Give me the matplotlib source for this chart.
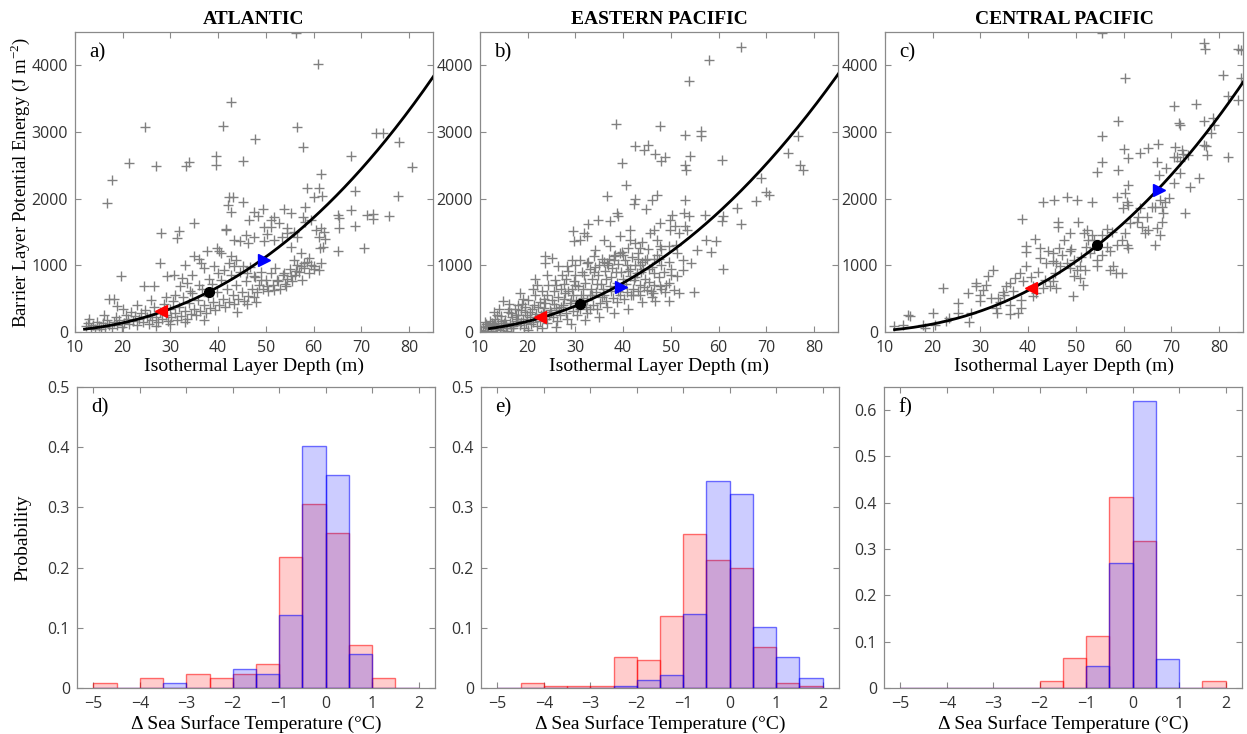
import numpy as np
import matplotlib
matplotlib.use("Agg")
import matplotlib.pyplot as plt

# ---------------- DATA ----------------
regions = ["ATLANTIC", "EASTERN PACIFIC", "CENTRAL PACIFIC"]
panel_top = ["a)", "b)", "c)"]
panel_bot = ["d)", "e)", "f)"]

# Scatter: (Isothermal layer depth [m], barrier layer PE [J m-2])
atl_points = [
    (56.4, 4490), (61.0, 4027), (42.6, 3443), (24.6, 3074), (41.1, 3084), (56.6, 3074), (57.7, 2775),
    (47.7, 2889), (73.0, 2989), (74.5, 2989), (77.9, 2844), (80.7, 2480), (39.5, 2645), (39.5, 2505),
    (45.1, 2565), (21.4, 2530), (27.0, 2495), (33.2, 2495), (33.8, 2555), (67.9, 2640), (61.5, 2375),
    (17.7, 2280), (16.7, 1936), (58.6, 2166), (61.2, 2166), (60.1, 2021), (61.7, 2041), (68.7, 2116),
    (77.6, 2041), (42.3, 2031), (43.2, 2031), (45.2, 1946), (42.0, 1906), (42.6, 1796), (35.0, 1642),
    (41.6, 1532), (41.6, 1552), (28.1, 1492), (31.7, 1522), (31.4, 1417),
    (49.3, 1841), (47.4, 1796), (48.4, 1741), (46.5, 1682), (51.7, 1731), (53.7, 1841), (55.2, 1781),
    (51.1, 1682), (51.0, 1582), (49.6, 1582), (52.8, 1642), (54.4, 1557), (58.2, 1881), (57.7, 1721),
    (58.1, 1657), (59.4, 1682), (60.5, 1532), (61.5, 1557), (62.2, 1507), (61.2, 1432), (62.4, 1392),
    (61.9, 1282), (61.3, 1257), (65.2, 1756), (65.4, 1716), (65.4, 1557), (67.9, 1831), (68.6, 1592),
    (71.1, 1756), (72.5, 1766), (72.5, 1697), (75.8, 1741), (70.6, 1267), (65.2, 1217), (45.8, 1457),
    (43.3, 1382), (44.5, 1372), (46.3, 1342), (47.5, 1432), (49.6, 1372), (50.3, 1472), (51.7, 1382),
    (53.3, 1422), (54.5, 1482), (55.9, 1507), (56.6, 1432), (55.2, 1282), (57.3, 1183), (59.1, 1108),
    (58.0, 1033), (60.1, 983), (61.2, 933), (61.5, 1033), (57.3, 983), (55.9, 1083), (56.2, 908),
    (55.2, 833), (53.8, 883), (52.4, 783), (54.2, 684), (51.7, 634), (50.3, 684), (48.9, 783),
    (47.5, 833), (46.1, 883), (45.1, 983), (43.7, 1083), (42.6, 1133), (40.5, 1183), (39.8, 1257),
    (40.2, 1222), (37.7, 1208), (42.3, 1033), (43.4, 983), (41.2, 933), (39.1, 983), (37.0, 958),
    (36.3, 1033), (34.9, 1133), (35.9, 1093), (33.1, 1008), (30.7, 858), (32.4, 808), (34.5, 858),
    (33.5, 734), (32.1, 684), (29.3, 833), (27.9, 1033), (26.5, 684), (24.5, 684), (19.6, 833),
    (18.1, 499), (17.1, 499), (18.8, 384),
    (12.2, 90), (12.8, 130), (13.3, 60), (13.8, 110), (14.2, 50), (14.6, 150), (15.1, 90), (15.5, 40),
    (15.9, 130), (16.3, 70), (16.8, 180), (17.2, 110), (17.7, 60), (18.1, 150), (18.5, 230), (18.9, 100),
    (19.3, 180), (19.8, 70), (20.2, 130), (20.6, 260), (21.0, 200), (21.4, 120), (21.8, 300), (22.2, 170),
    (22.6, 240), (23.0, 100), (23.4, 200), (23.8, 280), (24.2, 150), (24.6, 330), (25.0, 220), (25.4, 120),
    (25.8, 260), (26.2, 180), (26.6, 380), (27.0, 230), (27.4, 150), (27.8, 300), (28.2, 190), (28.6, 420),
    (29.0, 250), (29.4, 170), (29.8, 340), (30.2, 230), (30.6, 460), (31.0, 290), (31.4, 180), (31.8, 370),
    (32.2, 240), (32.6, 520), (33.0, 310), (33.4, 200), (33.8, 430), (34.2, 270), (34.6, 580), (35.0, 350),
    (35.4, 250), (35.8, 480), (36.2, 320), (36.6, 640), (37.0, 400), (37.4, 290), (37.8, 540), (38.2, 360),
    (38.6, 720), (39.0, 450), (39.4, 330), (39.8, 600), (40.2, 400), (40.6, 780), (41.0, 500), (41.4, 380),
    (41.8, 650), (42.2, 450), (42.6, 850), (43.0, 560), (43.4, 420), (43.8, 700), (44.2, 500), (44.6, 900),
    (45.0, 600), (45.4, 460), (45.8, 760), (46.2, 540), (46.6, 980), (47.0, 650), (47.4, 520), (47.8, 820),
    (48.2, 600), (48.6, 700), (49.0, 900), (49.4, 650), (50.0, 780), (50.5, 620), (51.0, 880), (51.5, 700),
    (52.0, 960), (52.5, 760), (53.0, 640), (53.5, 860), (54.0, 720), (54.5, 800), (55.0, 940), (55.5, 760),
    (56.0, 860), (56.5, 1000), (57.0, 900), (57.5, 780), (58.0, 960), (58.5, 1050), (59.0, 880),
    (59.5, 1000), (60.0, 950), (13.0, 200), (16.0, 250), (20.0, 350), (23.0, 400), (26.0, 480),
    (29.0, 520), (31.0, 560), (34.0, 620), (36.0, 700), (38.0, 800), (40.0, 880), (44.0, 300),
    (46.0, 420), (48.0, 450), (37.0, 180), (33.0, 150), (30.0, 120), (27.0, 90)
]

ep_points = [
    (64.7, 4270), (58.0, 4075), (53.8, 3770), (38.5, 3120), (47.8, 3095), (53.0, 2960), (56.4, 3020),
    (56.2, 2945), (42.4, 2785), (44.3, 2735), (45.3, 2800), (46.7, 2675), (47.9, 2570), (48.8, 2625),
    (39.7, 2535), (53.0, 2500), (53.9, 2635), (53.2, 2435), (60.7, 2585), (74.5, 2685), (76.6, 2940),
    (77.1, 2500), (77.7, 2435), (68.9, 2310), (70.0, 2095), (70.5, 2060), (67.9, 1960), (63.8, 1860),
    (64.7, 1620), (60.6, 1660), (60.9, 1735), (57.2, 1760), (59.4, 1370), (57.4, 1375), (58.3, 1195),
    (55.5, 1225), (60.9, 945), (54.9, 605), (40.6, 2200), (36.6, 2035), (42.4, 2000), (42.2, 1920),
    (44.8, 1850), (46.0, 1985), (47.1, 2060), (52.9, 1975), (52.7, 1785), (53.7, 1745), (50.3, 1760),
    (49.9, 1685), (50.9, 1585), (53.0, 1585), (53.4, 1535), (51.6, 1485), (49.9, 1535), (47.8, 1635),
    (46.4, 1535), (45.7, 1485), (47.1, 1385), (47.8, 1285), (49.5, 1285), (51.2, 1185), (52.6, 1085),
    (54.1, 1035), (52.6, 935), (51.2, 835), (49.5, 735), (50.6, 635), (51.7, 585), (49.5, 460),
    (46.7, 460), (48.7, 595), (47.7, 685), (46.3, 585), (44.9, 635), (43.6, 560), (38.7, 1785),
    (39.0, 1735), (37.3, 1660), (34.8, 1685), (32.7, 1625), (31.7, 1485), (29.4, 1520), (29.6, 1360),
    (31.0, 1385), (32.4, 1435), (35.9, 1385), (37.3, 1285), (39.4, 1435), (41.5, 1535), (42.5, 1335),
    (41.5, 1385), (43.6, 1260), (41.1, 1260), (39.4, 1185), (38.0, 1135), (36.6, 1035), (34.1, 1235),
    (33.8, 1135), (32.4, 1035), (31.0, 1085), (29.2, 1085), (28.2, 985), (26.4, 985), (25.0, 1110),
    (23.6, 1135), (23.6, 1035), (21.5, 795), (18.4, 585), (14.9, 460),
    (10.3, 30), (10.6, 80), (11.0, 20), (11.3, 120), (11.7, 60), (12.0, 160), (12.4, 40), (12.7, 100),
    (13.1, 200), (13.4, 70), (13.8, 140), (14.1, 30), (14.5, 240), (14.8, 110), (15.2, 180), (15.5, 60),
    (15.9, 300), (16.2, 140), (16.6, 220), (16.9, 90), (17.3, 350), (17.6, 170), (18.0, 260), (18.3, 110),
    (18.7, 420), (19.0, 200), (19.4, 300), (19.7, 130), (20.1, 480), (20.4, 230), (20.8, 340), (21.1, 150),
    (21.5, 560), (21.8, 270), (22.2, 380), (22.5, 170), (22.9, 620), (23.2, 300), (23.6, 430), (23.9, 200),
    (24.3, 700), (24.6, 330), (25.0, 480), (25.3, 220), (25.7, 780), (26.0, 360), (26.4, 530), (26.7, 250),
    (27.1, 850), (27.4, 400), (27.8, 580), (28.1, 280), (28.5, 920), (28.8, 430), (29.2, 640), (29.5, 310),
    (29.9, 1000), (30.2, 470), (30.6, 690), (30.9, 340), (31.3, 900), (31.6, 510), (32.0, 740), (32.3, 370),
    (32.7, 1050), (33.0, 550), (33.4, 800), (33.7, 400), (34.1, 980), (34.4, 600), (34.8, 860), (35.1, 430),
    (35.5, 1100), (35.8, 640), (36.2, 910), (36.5, 470), (36.9, 1000), (37.2, 690), (37.6, 960), (37.9, 510),
    (38.3, 1150), (38.6, 740), (39.0, 1020), (39.3, 560), (39.7, 1200), (40.0, 790), (40.4, 1080),
    (40.7, 600), (41.1, 920), (41.4, 840), (41.8, 1130), (42.1, 650), (42.5, 1000), (42.8, 890),
    (43.2, 1180), (43.5, 700), (43.9, 1050), (44.2, 940), (44.6, 800), (45.0, 1100), (45.5, 750),
    (46.0, 980), (46.5, 880), (47.0, 1150), (47.5, 820), (48.0, 1000), (48.5, 900), (49.0, 700),
    (49.5, 1050), (50.0, 850),
    (11.5, 90), (12.2, 10), (13.0, 120), (13.6, 250), (14.3, 90), (15.0, 140), (15.7, 20), (16.4, 280),
    (17.0, 60), (17.8, 200), (18.5, 330), (19.2, 60), (19.9, 260), (20.6, 120), (21.3, 400), (22.0, 90),
    (22.7, 250), (23.4, 500), (24.1, 130), (24.8, 300), (25.5, 620), (26.2, 170), (26.9, 380), (27.6, 720),
    (28.3, 200), (29.0, 480), (29.7, 760), (30.4, 250), (31.1, 560), (31.8, 850), (32.5, 280), (33.2, 650),
    (33.9, 900), (34.6, 350), (35.3, 720), (36.0, 1050), (36.7, 380), (37.4, 820), (38.1, 1080),
    (38.8, 450), (39.5, 900), (40.2, 500), (40.9, 1000), (41.6, 560), (42.3, 780), (43.0, 620),
    (43.7, 900), (44.4, 680), (45.1, 1250), (45.8, 620), (46.5, 1100),
    (14.0, 350), (16.0, 420), (19.0, 500), (21.0, 650), (24.0, 560), (26.0, 700), (28.0, 800),
    (30.0, 850), (33.0, 950), (35.0, 1000), (37.0, 1100), (40.0, 1150), (43.0, 1100), (20.0, 30),
    (23.0, 60), (26.0, 80), (29.0, 120), (32.0, 180), (35.0, 220), (38.0, 280), (41.0, 350),
    (12.5, 130), (13.5, 40), (14.5, 170), (15.5, 100), (16.5, 60), (17.5, 260), (18.5, 150), (19.5, 380),
    (20.5, 300), (21.5, 220), (22.5, 450), (23.5, 360), (24.5, 250), (25.5, 420), (26.5, 330), (27.5, 500),
    (28.5, 620), (29.5, 550), (30.5, 380), (31.5, 650), (32.5, 480), (33.5, 560), (34.5, 720), (35.5, 520),
    (36.5, 800), (37.5, 620), (38.5, 900), (39.5, 680), (40.5, 720), (41.5, 950), (42.5, 820),
    (43.5, 1000), (44.5, 1080), (45.5, 950), (46.5, 700), (47.5, 1100), (11.0, 150), (13.0, 300),
    (16.0, 350), (18.0, 400), (22.0, 700), (24.0, 850), (27.0, 650), (30.0, 700), (33.0, 350),
    (36.0, 550), (39.0, 620), (42.0, 550), (44.0, 450), (46.0, 520), (48.0, 650), (50.0, 950),
    (51.0, 1300), (48.0, 1250), (44.0, 1350)
]

cp_points = [
    (55.4, 4480), (76.8, 4336), (77.1, 4250), (84.0, 4250), (84.5, 4225), (60.3, 3812), (80.8, 3852),
    (81.9, 3538), (84.0, 3478), (84.5, 3812), (70.5, 3388), (75.2, 3413), (71.6, 3129), (71.9, 3104),
    (58.9, 3169), (76.8, 3164), (78.7, 3214), (78.9, 3104), (77.3, 2794), (76.8, 2804), (77.5, 2655),
    (81.9, 2625), (78.2, 2979), (55.4, 2939), (60.0, 2740), (61.0, 2605), (63.5, 2690), (65.2, 2755),
    (67.1, 2819), (66.9, 2555), (67.3, 2355), (68.9, 2455), (70.6, 2630), (72.2, 2730), (70.8, 2779),
    (72.4, 2670), (71.2, 2630), (73.4, 2655), (71.9, 2565), (70.5, 2230), (71.9, 2380), (74.0, 2180),
    (75.8, 2305), (72.9, 1781), (69.4, 2006), (68.7, 1956), (68.0, 1881), (66.6, 1881), (67.7, 1981),
    (54.4, 2405), (55.4, 2555), (58.9, 2430), (61.0, 2205), (60.3, 2081), (58.6, 2031), (60.6, 1956),
    (61.0, 1906), (59.8, 1856), (63.5, 1856), (65.9, 1881), (64.9, 1731), (63.1, 1731), (62.8, 1657),
    (61.4, 1632), (63.8, 1582), (65.2, 1532), (64.5, 1482), (66.6, 1307), (67.7, 1457), (66.9, 1557),
    (68.0, 1657), (68.3, 1781), (60.3, 1482), (59.6, 1382), (60.6, 1307), (61.0, 1257), (58.6, 1307),
    (57.2, 1208), (56.5, 1282), (55.4, 1158), (57.7, 983), (58.4, 883), (59.6, 883), (57.2, 933),
    (54.4, 1083), (54.4, 983), (53.8, 1257), (53.3, 1457), (52.3, 1532), (51.6, 1482), (50.5, 1657),
    (50.2, 1981), (48.1, 2031), (45.4, 1981), (43.0, 1946), (53.3, 1956), (38.6, 1697), (46.3, 1657),
    (46.3, 1582), (48.8, 1482), (47.5, 1382), (46.4, 1257), (45.2, 1183), (44.2, 1208), (42.4, 1257),
    (41.4, 1392), (39.6, 1292), (39.6, 1193), (43.8, 1033), (42.4, 1108), (45.2, 1058), (45.9, 1033),
    (46.7, 983), (48.1, 1033), (48.8, 958), (49.5, 833), (50.3, 933), (50.9, 983), (50.9, 808),
    (51.9, 933), (51.4, 709), (49.4, 534), (45.2, 758), (44.5, 684), (45.9, 659), (43.1, 659),
    (41.7, 584), (41.0, 544), (38.2, 883), (37.2, 808), (36.1, 734), (35.4, 684), (34.7, 594),
    (33.7, 509), (33.3, 359), (33.4, 284), (36.1, 409), (36.1, 274), (37.9, 284), (38.4, 359),
    (38.4, 484), (32.3, 509), (32.6, 933), (31.6, 833), (30.5, 634), (31.2, 709), (29.1, 734),
    (29.1, 684), (29.8, 559), (29.8, 459), (28.1, 284), (27.7, 145), (27.4, 584), (25.3, 434),
    (25.3, 284), (23.5, 210), (22.8, 170), (22.1, 659), (20.0, 284), (20.4, 110), (17.9, 110),
    (18.3, 60), (15.3, 245), (14.8, 260), (13.7, 110), (11.9, 85), (41.0, 684), (39.6, 983),
    (45.6, 883), (48.8, 1208), (49.5, 1083), (52.1, 1282), (53.7, 1382), (52.6, 1382),
    (34.0, 450), (35.0, 560), (36.8, 620), (39.0, 760), (40.5, 830), (42.0, 900), (43.5, 780),
    (47.0, 1150), (49.0, 1250), (51.0, 1120), (53.0, 1180), (55.5, 1450), (56.5, 1550), (57.5, 1500)
]

# Power-law fits: BPE = coef * ILD ** expo
fit_coef = [0.1396, 0.220, 0.0958]
fit_expo = [2.30, 2.20, 2.38]
fit_xstart = [12.0, 12.0, 12.0]

# Highlighted points on the fits: (x, y) for red, black, blue markers
red_mark = [(28.0, 320), (22.5, 230), (40.5, 660)]
black_mark = [(38.0, 600), (31.0, 420), (54.5, 1300)]
blue_mark = [(49.5, 1080), (39.5, 680), (67.5, 2130)]

# Histograms of SST change (bin width 0.5 degC)
bin_edges = [-5.0, -4.5, -4.0, -3.5, -3.0, -2.5, -2.0, -1.5, -1.0, -0.5, 0.0, 0.5, 1.0, 1.5, 2.0]
red_prob = [
    [0.008, 0.0, 0.016, 0.0, 0.024, 0.016, 0.024, 0.040, 0.217, 0.306, 0.257, 0.072, 0.016, 0.0],
    [0.0, 0.008, 0.004, 0.004, 0.004, 0.051, 0.047, 0.119, 0.255, 0.212, 0.200, 0.068, 0.008, 0.004],
    [0.0, 0.0, 0.0, 0.0, 0.0, 0.0, 0.015, 0.064, 0.112, 0.413, 0.318, 0.0, 0.0, 0.015],
]
blue_prob = [
    [0.0, 0.0, 0.0, 0.008, 0.0, 0.0, 0.032, 0.024, 0.121, 0.402, 0.354, 0.056, 0.0, 0.0],
    [0.0, 0.0, 0.0, 0.0, 0.0, 0.004, 0.013, 0.022, 0.123, 0.344, 0.323, 0.102, 0.051, 0.017],
    [0.0, 0.0, 0.0, 0.0, 0.0, 0.0, 0.0, 0.0, 0.048, 0.270, 0.619, 0.063, 0.0, 0.0],
]
hist_ymax = [0.5, 0.5, 0.65]

# ---------------- STYLE / LAYOUT ----------------
serif = ["Liberation Serif", "DejaVu Serif"]
sans = ["Open Sans", "DejaVu Sans"]
frame_col = "#8a8a8a"
tick_lab_col = "#333333"

fig = plt.figure(figsize=(12.47, 7.34), dpi=100)

top_lefts = [75, 480, 885]
bot_lefts = [77, 481, 884]
W = 1247.0
H = 734.0
ax_w = 358


def style_axes(ax):
    for s in ax.spines.values():
        s.set_color(frame_col)
        s.set_linewidth(0.9)
    ax.tick_params(direction="in", length=4, width=0.8, color=frame_col,
                   top=True, right=True, labelcolor=tick_lab_col, labelsize=11.5)
    ax.tick_params(axis="x", pad=6)
    ax.tick_params(axis="y", pad=5)
    for lab in ax.get_xticklabels() + ax.get_yticklabels():
        lab.set_family(sans)


all_points = [atl_points, ep_points, cp_points]

for i in range(3):
    ax = fig.add_axes([top_lefts[i] / W, (H - 332) / H, ax_w / W, 300 / H])
    pts = np.array(all_points[i])
    ax.plot(pts[:, 0], pts[:, 1], linestyle="none", marker="+", color="#808080",
            markersize=6.5, markeredgewidth=1.0, zorder=2)
    xs = np.linspace(fit_xstart[i], 86, 300)
    ax.plot(xs, fit_coef[i] * xs ** fit_expo[i], color="black", lw=2.0, zorder=3)
    ax.plot(*red_mark[i], marker="<", color="red", markersize=8, zorder=4, linestyle="none")
    ax.plot(*black_mark[i], marker="o", color="black", markersize=7, zorder=4, linestyle="none")
    ax.plot(*blue_mark[i], marker=">", color="blue", markersize=8, zorder=4, linestyle="none")
    ax.set_xlim(10, 85)
    ax.set_ylim(0, 4500)
    ax.set_xticks(np.arange(10, 81, 10))
    ax.set_yticks(np.arange(0, 4001, 1000))
    style_axes(ax)
    ax.set_xlabel("Isothermal Layer Depth (m)", family=serif, fontsize=14, labelpad=1)
    ax.set_title(regions[i], family=serif, fontweight="bold", fontsize=14, pad=6)
    ax.text(0.04, 0.93, panel_top[i], transform=ax.transAxes, family=serif, fontsize=15,
            va="center", ha="left")
    if i == 0:
        ax.set_ylabel("Barrier Layer Potential Energy (J m$^{\\mathregular{-2}}$)",
                      family=serif, fontsize=13.5, labelpad=0)

centers = (np.array(bin_edges[:-1]) + np.array(bin_edges[1:])) / 2
widths = np.diff(bin_edges)

for i in range(3):
    ax = fig.add_axes([bot_lefts[i] / W, (H - 688) / H, ax_w / W, 301 / H])
    ax.bar(centers, red_prob[i], width=widths, facecolor=(1, 0, 0, 0.2),
           edgecolor=(1, 0, 0, 0.55), linewidth=1.0, zorder=2)
    ax.bar(centers, blue_prob[i], width=widths, facecolor=(0, 0, 1, 0.2),
           edgecolor=(0, 0, 1, 0.55), linewidth=1.0, zorder=3)
    ax.set_xlim(-5.35, 2.35)
    ax.set_ylim(0, hist_ymax[i])
    ax.set_xticks(np.arange(-5, 3, 1))
    ax.set_xticklabels(["\u22125", "\u22124", "\u22123", "\u22122", "\u22121", "0", "1", "2"])
    if hist_ymax[i] > 0.6:
        ax.set_yticks(np.arange(0, 0.61, 0.1))
        ax.set_yticklabels(["0", "0.1", "0.2", "0.3", "0.4", "0.5", "0.6"])
    else:
        ax.set_yticks(np.arange(0, 0.51, 0.1))
        ax.set_yticklabels(["0", "0.1", "0.2", "0.3", "0.4", "0.5"])
    style_axes(ax)
    ax.set_xlabel("\u0394 Sea Surface Temperature (\u00b0C)", family=serif, fontsize=14, labelpad=2)
    ax.text(0.04, 0.93, panel_bot[i], transform=ax.transAxes, family=serif, fontsize=15,
            va="center", ha="left")
    if i == 0:
        ax.set_ylabel("Probability", family=serif, fontsize=14, labelpad=12)

fig.savefig("out.png", dpi=100)
